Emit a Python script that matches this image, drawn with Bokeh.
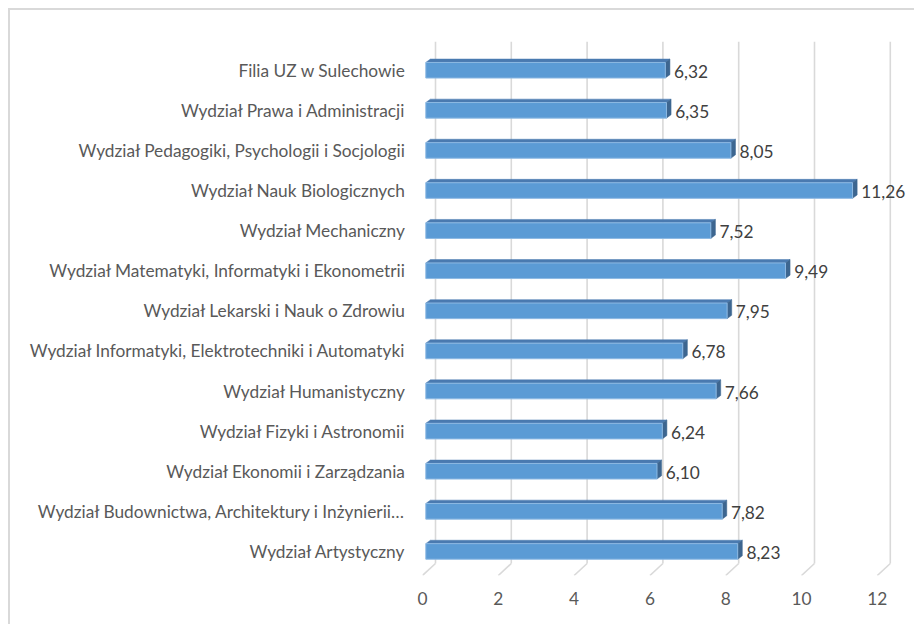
from bokeh.plotting import figure
from bokeh.models import Range1d, FixedTicker
from bokeh.core.properties import value
from bokeh.embed import file_html
from bokeh.resources import INLINE

# ---- data (bottom to top) ----
categories = [
    "Wydział Artystyczny",
    "Wydział Budownictwa, Architektury i Inżynierii…",
    "Wydział Ekonomii i Zarządzania",
    "Wydział Fizyki i Astronomii",
    "Wydział Humanistyczny",
    "Wydział Informatyki, Elektrotechniki i Automatyki",
    "Wydział Lekarski i Nauk o Zdrowiu",
    "Wydział Matematyki, Informatyki i Ekonometrii",
    "Wydział Mechaniczny",
    "Wydział Nauk Biologicznych",
    "Wydział Pedagogiki, Psychologii i Socjologii",
    "Wydział Prawa i Administracji",
    "Filia UZ w Sulechowie",
]
values = [8.23, 7.82, 6.10, 6.24, 7.66, 6.78, 7.95, 9.49, 7.52, 11.26, 8.05, 6.35, 6.32]
x_ticks = [0, 2, 4, 6, 8, 10, 12]

# ---- layout constants (pixels) ----
W, H = 914, 624
ML, MR, MT, MB = 422, 0, 41, 49
PXX = 37.9   # px per x unit
PXY = 40.1   # px per category
FRAME_W = W - ML - MR
FRAME_H = H - MT - MB
Y0 = -0.6
x_end = FRAME_W / PXX
y_end = Y0 + FRAME_H / PXY

# depth offsets (data units)
wall_dx, wall_dy = 13 / PXX, 12 / PXY
bar_bx = 3.3 / PXX
bar_h = 7.8 / PXY
bar_dx, bar_dy = 4.6 / PXX, 3.4 / PXY

FONT = "Lato"
FS = "17.3px"
p = figure(width=W, height=H, output_backend="svg", toolbar_location=None,
           x_range=Range1d(0, x_end), y_range=Range1d(Y0, y_end),
           min_border_left=ML, min_border_right=MR, min_border_top=MT,
           min_border_bottom=MB)
p.outline_line_color = None
p.xgrid.visible = False
p.ygrid.visible = False
p.border_fill_color = None
p.background_fill_color = "white"
# chart area border (top and left edges visible in the crop)
p.styles = {
    "background": ("linear-gradient(#d9d9d9, #d9d9d9) 8px 8px / 100% 2px no-repeat, "
                   "linear-gradient(#d9d9d9, #d9d9d9) 8px 8px / 2px 100% no-repeat, white"),
}

# back wall gridlines and floor diagonals
gx0 = [t + wall_dx for t in x_ticks]
p.segment(x0=gx0, y0=[Y0 + wall_dy] * len(x_ticks), x1=gx0, y1=[y_end] * len(x_ticks),
          line_color="#d9d9d9", line_width=1.6)
p.segment(x0=x_ticks, y0=[Y0] * len(x_ticks), x1=gx0, y1=[Y0 + wall_dy] * len(x_ticks),
          line_color="#d9d9d9", line_width=1.6)

ys = list(range(len(categories)))
top_xs, top_ys, side_xs, side_ys = [], [], [], []
for y, v in zip(ys, values):
    r = v + bar_bx
    top_xs.append([bar_bx, r, r + bar_dx, bar_bx + bar_dx])
    top_ys.append([y + bar_h, y + bar_h, y + bar_h + bar_dy, y + bar_h + bar_dy])
    side_xs.append([r, r + bar_dx, r + bar_dx, r])
    side_ys.append([y - bar_h, y - bar_h + bar_dy, y + bar_h + bar_dy, y + bar_h])
p.patches(top_xs, top_ys, fill_color="#4a7ab0", line_color="#4a7ab0", line_width=0.5)
p.patches(side_xs, side_ys, fill_color="#3d6690", line_color="#3d6690", line_width=0.5)
p.quad(left=[bar_bx] * len(values), right=[v + bar_bx for v in values],
       bottom=[y - bar_h for y in ys], top=[y + bar_h for y in ys],
       fill_color="#5b9bd5", line_color="#8db9e3", line_width=1)

# value labels
p.text(x=values, y=ys, text=[f"{v:.2f}".replace(".", ",") for v in values],
       x_offset=12, y_offset=1, text_align="left", text_baseline="middle",
       text_font=value(FONT), text_font_size=FS, text_color="#404040")

# axes
p.xaxis.ticker = FixedTicker(ticks=x_ticks)
p.xaxis.axis_line_color = None
p.xaxis.major_tick_line_color = None
p.xaxis.minor_tick_line_color = None
p.xaxis.major_label_standoff = 10
p.xaxis.major_label_text_font = FONT
p.xaxis.major_label_text_font_size = FS
p.xaxis.major_label_text_color = "#595959"

p.yaxis.ticker = FixedTicker(ticks=ys)
p.yaxis.major_label_overrides = {i: c for i, c in enumerate(categories)}
p.yaxis.axis_line_color = None
p.yaxis.major_tick_line_color = None
p.yaxis.minor_tick_line_color = None
p.yaxis.major_label_standoff = 11
p.yaxis.major_label_text_font = FONT
p.yaxis.major_label_text_font_size = FS
p.yaxis.major_label_text_color = "#595959"

open("out.html", "w").write(file_html(p, INLINE))
